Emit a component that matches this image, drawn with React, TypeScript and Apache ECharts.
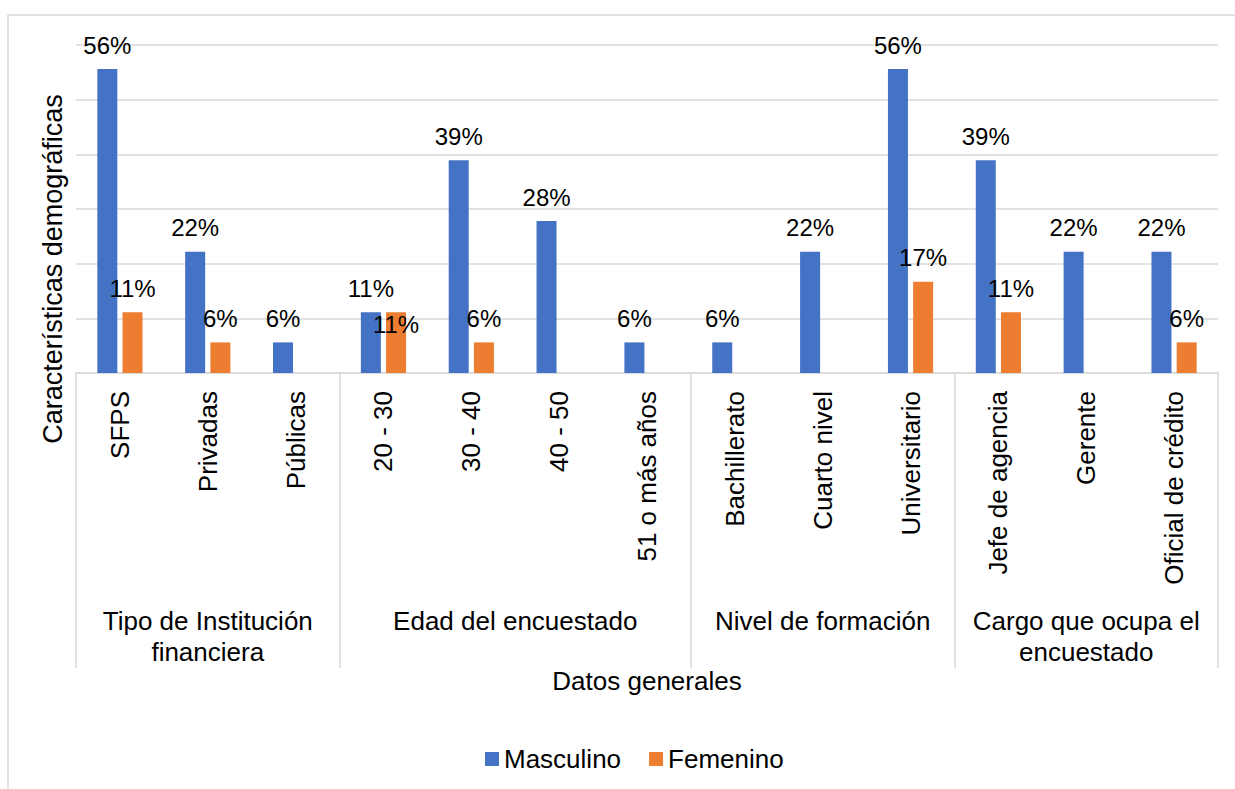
import React, { useEffect, useRef } from "react";
import * as echarts from "echarts";

const categories = [
  "SFPS", "Privadas", "Públicas",
  "20 - 30", "30 - 40", "40 - 50", "51 o más años",
  "Bachillerato", "Cuarto nivel", "Universitario",
  "Jefe de agencia", "Gerente", "Oficial de crédito",
];
const groupNames = [
  "Tipo de Institución\nfinanciera",
  "Edad del encuestado",
  "Nivel de formación",
  "Cargo que ocupa el\nencuestado",
];
const groupSizes = [3, 4, 3, 3];
const masculino = [55.6, 22.2, 5.6, 11.1, 38.9, 27.8, 5.6, 5.6, 22.2, 55.6, 38.9, 22.2, 22.2];
const femenino: (number | null)[] = [11.1, 5.6, null, 11.1, 5.6, null, null, null, null, 16.7, 11.1, null, 5.6];
const seriesNames = ["Masculino", "Femenino"];
const yMin = 0;
const yMax = 60;
const yInterval = 10;
const yTitle = "Características demográficas";
const xTitle = "Datos generales";

export default function App() {
  const ref = useRef<HTMLDivElement>(null);
  useEffect(() => {
    document.body.style.margin = "0";
    document.body.style.overflow = "hidden";
    const chart = echarts.init(ref.current!, null, { renderer: "svg" });
    const font = "'Liberation Sans', Arial, sans-serif";
    const grey = "#d9d9d9";
    const boundaries: number[] = [0];
    groupSizes.forEach((s) => boundaries.push(boundaries[boundaries.length - 1] + s));
    const centers = groupSizes.map((s, i) => boundaries[i] + s / 2);
    const fmt = (p: any) => Math.round(p.value) + "%";

    const femData = femenino.map((v, i) =>
      v !== null && v === masculino[i]
        ? { value: v, label: { position: "insideTop", distance: 0 } }
        : v
    );

    chart.setOption({
      animation: false,
      textStyle: { fontFamily: font },
      grid: { left: 76, right: 17, top: 45, bottom: 789 - 373, containLabel: false },
      graphic: [
        {
          type: "rect",
          shape: { x: 8, y: 15, width: 1400, height: 900 },
          style: { fill: "none", stroke: grey, lineWidth: 1.5 },
          silent: true,
        },
        {
          type: "text",
          x: 53,
          y: 269,
          rotation: Math.PI / 2,
          style: {
            text: yTitle,
            fontSize: 27,
            fontFamily: font,
            fill: "#000",
            align: "center",
            verticalAlign: "middle",
          },
        },
      ],
      legend: {
        data: seriesNames,
        left: 480,
        top: 741,
        icon: "rect",
        itemWidth: 14,
        itemHeight: 14,
        itemGap: 28,
        textStyle: { fontSize: 26, color: "#000", fontFamily: font },
      },
      xAxis: [
        {
          type: "category",
          data: categories,
          position: "bottom",
          axisLine: { show: true, lineStyle: { color: grey, width: 1.5 } },
          axisTick: { show: false },
          axisLabel: {
            rotate: 90,
            margin: 18,
            fontSize: 26,
            color: "#000",
            fontFamily: font,
            interval: 0,
          },
        },
        {
          type: "value",
          min: 0,
          max: categories.length,
          position: "bottom",
          splitLine: { show: false },
          axisLine: { show: false },
          axisTick: {
            show: true,
            customValues: boundaries,
            length: 295,
            lineStyle: { color: grey, width: 1.5 },
          },
          axisLabel: {
            customValues: centers,
            margin: 232,
            fontSize: 26,
            lineHeight: 31,
            color: "#000",
            fontFamily: font,
            align: "center",
            formatter: (v: number) => groupNames[centers.indexOf(v)] ?? "",
          },
          name: xTitle,
          nameLocation: "middle",
          nameGap: 295,
          nameTextStyle: { fontSize: 26, color: "#000", fontFamily: font },
        },
      ],
      yAxis: {
        type: "value",
        min: yMin,
        max: yMax,
        interval: yInterval,
        axisLabel: { show: false },
        axisLine: { show: false },
        axisTick: { show: false },
        splitLine: { lineStyle: { color: grey, width: 1.5 } },
      },
      series: [
        {
          name: seriesNames[0],
          type: "bar",
          data: masculino,
          barWidth: 20,
          barGap: "26%",
          itemStyle: { color: "#4472C4" },
          label: {
            show: true,
            position: "top",
            distance: 12,
            formatter: fmt,
            fontSize: 24,
            color: "#000",
            fontFamily: font,
          },
        },
        {
          name: seriesNames[1],
          type: "bar",
          data: femData,
          barWidth: 20,
          barGap: "26%",
          itemStyle: { color: "#ED7D31" },
          label: {
            show: true,
            position: "top",
            distance: 12,
            formatter: fmt,
            fontSize: 24,
            color: "#000",
            fontFamily: font,
          },
        },
      ],
    });
    return () => chart.dispose();
  }, []);
  return <div ref={ref} style={{ width: 1235, height: 789 }} />;
}
